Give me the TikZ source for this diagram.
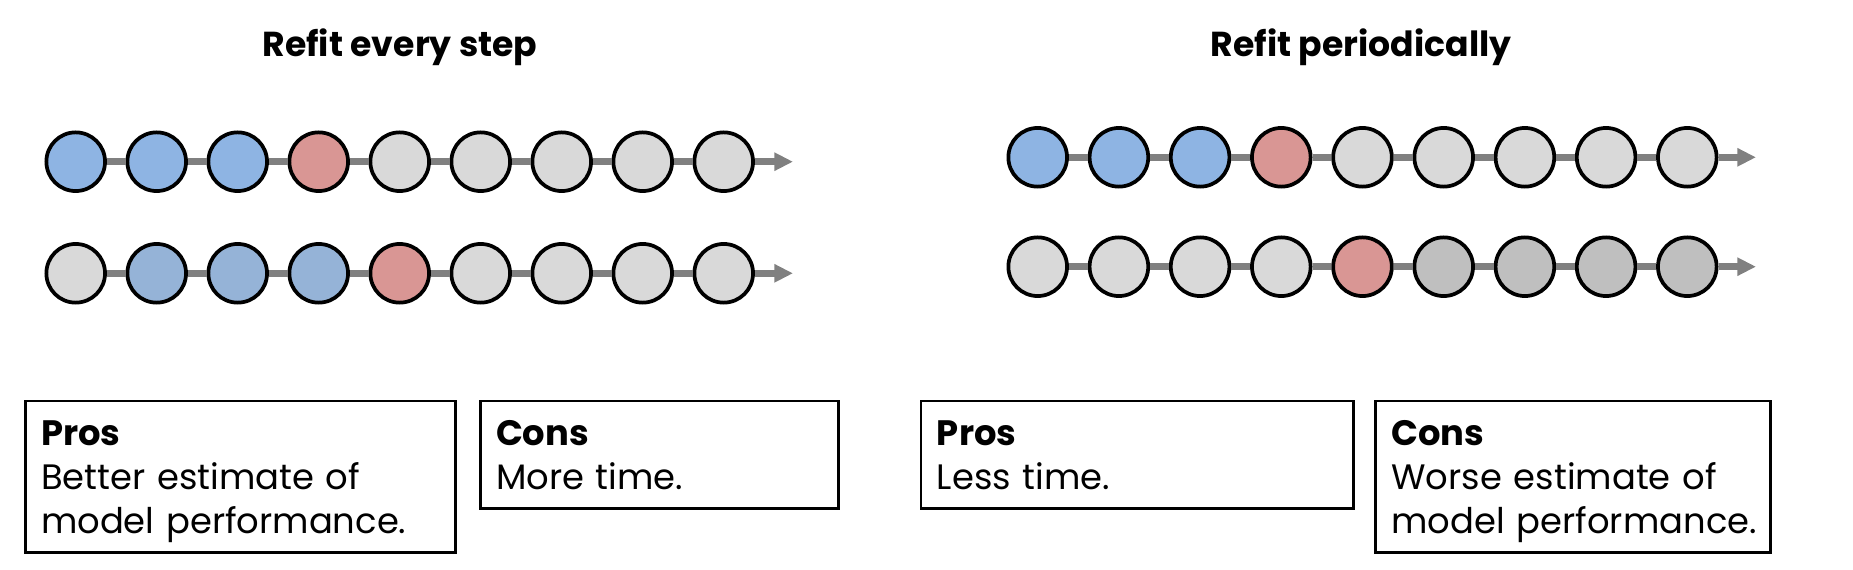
\documentclass[tikz,border=0pt]{standalone}
\usepackage{fontspec}
\setmainfont{Poppins}
\usetikzlibrary{arrows.meta}

\definecolor{fitblue}{HTML}{8EB4E3}
\definecolor{fitblueB}{HTML}{95B3D7}
\definecolor{fitred}{HTML}{D99694}
\definecolor{fitlight}{HTML}{D9D9D9}
\definecolor{fitdark}{HTML}{BFBFBF}
\definecolor{linkgray}{HTML}{808080}

% struts for the first and last line of a box
\newcommand{\boxtop}{\rule{0pt}{27pt}}
\newcommand{\boxend}{\rule[-7.5pt]{0pt}{7.5pt}}

\tikzset{
  obs/.style={circle,draw=black,line width=2.8pt,minimum size=44pt,inner sep=0pt},
  link/.style={draw=linkgray,line width=5pt},
  timeline/.style={link,-{Triangle[length=14pt,width=13pt]}},
  headline/.style={font=\fontsize{26}{30}\selectfont\bfseries},
  infobox/.style={draw=black,line width=2.2pt,anchor=north west,align=left,
    inner xsep=12pt,inner ysep=6.5pt,font=\fontsize{26.5}{33}\selectfont}
}

\begin{document}
\begin{tikzpicture}[x=0.75pt,y=-0.75pt]
        \useasboundingbox (0,0) rectangle (1853,570);

        % Titles
        \node[headline] (titleL) at (400,47) {Refit every step};
        \node[headline] (titleR) at (1361,47) {Refit periodically};

        % Refit every step, first split
        \foreach \c [count=\i] in {fitblue,fitblue,fitblue,fitred,fitlight,fitlight,fitlight,fitlight,fitlight}
            \node[obs,fill=\c] (la\i) at ({75.7+81*(\i-1)},161.7) {};
        \foreach \i [evaluate=\i as \j using int(\i+1)] in {1,...,8}
            \draw[link] (la\i) -- (la\j);
        \coordinate (laend) at (793,161.7);
        \draw[timeline] (la9) -- (laend);

        % Refit every step, second split
        \foreach \c [count=\i] in {fitlight,fitblueB,fitblueB,fitblueB,fitred,fitlight,fitlight,fitlight,fitlight}
            \node[obs,fill=\c] (lb\i) at ({75.7+81*(\i-1)},273.3) {};
        \foreach \i [evaluate=\i as \j using int(\i+1)] in {1,...,8}
            \draw[link] (lb\i) -- (lb\j);
        \coordinate (lbend) at (793,273.3);
        \draw[timeline] (lb9) -- (lbend);

        % Refit periodically, first split
        \foreach \c [count=\i] in {fitblue,fitblue,fitblue,fitred,fitlight,fitlight,fitlight,fitlight,fitlight}
            \node[obs,fill=\c] (ra\i) at ({1037.7+81.2*(\i-1)},157.3) {};
        \foreach \i [evaluate=\i as \j using int(\i+1)] in {1,...,8}
            \draw[link] (ra\i) -- (ra\j);
        \coordinate (raend) at (1756,157.3);
        \draw[timeline] (ra9) -- (raend);

        % Refit periodically, second split
        \foreach \c [count=\i] in {fitlight,fitlight,fitlight,fitlight,fitred,fitdark,fitdark,fitdark,fitdark}
            \node[obs,fill=\c] (rb\i) at ({1037.7+81.2*(\i-1)},266.7) {};
        \foreach \i [evaluate=\i as \j using int(\i+1)] in {1,...,8}
            \draw[link] (rb\i) -- (rb\j);
        \coordinate (rbend) at (1756,266.7);
        \draw[timeline] (rb9) -- (rbend);

        % Pros and cons
        \node[infobox,text width=299pt] (prosL) at (23.6,399.5)
            {\boxtop\textbf{Pros}\\Better estimate of\\\mbox{model performance.}\boxend};
        \node[infobox,text width=244.5pt] (consL) at (478.6,399.5)
            {\boxtop\textbf{Cons}\\More time.\boxend};
        \node[infobox,text width=300.4pt] (prosR) at (919.5,399.5)
            {\boxtop\textbf{Pros}\\Less time.\boxend};
        \node[infobox,text width=272pt] (consR) at (1374,399.5)
            {\boxtop\textbf{Cons}\\Worse estimate of\\\mbox{model performance.}\boxend};
    \end{tikzpicture}
\end{document}
